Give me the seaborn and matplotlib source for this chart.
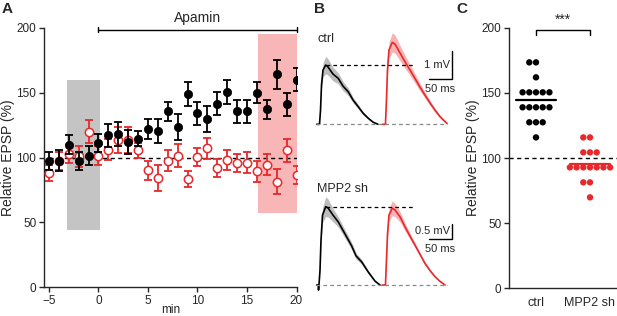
import numpy as np
import pandas as pd
import seaborn as sns
import matplotlib.pyplot as plt

# ---- panel A: time course (mean +/- sem) ----
minutes = list(range(-5, 21))
ctrl_mean = [97, 97.5, 110, 97, 101.5, 111, 117, 118, 112, 114.5, 122, 120.5, 135.5,
             123.5, 149, 134, 129.5, 141.5, 150.5, 135.5, 135.5, 150, 137, 164, 141, 160]
ctrl_sem = [7, 8, 7, 7, 7, 7, 9, 9, 9, 6, 8, 9, 7, 10, 9, 9, 10, 9, 9, 9, 9, 8, 7, 11, 9, 9]
sh_mean = [88, 97, 103, 101, 120, 101.5, 106, 113.5, 113.5, 105.5, 90, 84, 97.5, 101.5,
           83.5, 100.5, 107, 92, 98, 96, 96, 89.5, 94.5, 81.5, 105.5, 86.5]
sh_sem = [6, 7, 7, 8, 9, 7, 8, 10, 10, 6, 7, 10, 8, 9, 6, 7, 8, 7, 8, 7, 8, 8, 8, 10, 9, 7]

# ---- panel B: averaged EPSP traces (ms, mV) ----
top_black_t = [0, 6.2, 8.4, 10.6, 13.9, 19.8, 24.9, 35.9, 47.6, 57.9, 69.6, 80, 91.7, 102, 113.7, 124, 135]
top_black_v = [0, 0, 0.52, 1.44, 1.99, 2.17, 2.10, 1.84, 1.68, 1.40, 1.19, 0.89, 0.64, 0.41, 0.22, 0.08, 0]
top_black_e = [0, 0, 0.05, 0.15, 0.25, 0.32, 0.3, 0.25, 0.2, 0.17, 0.14, 0.1, 0.08, 0.06, 0.04, 0.02, 0]
top_red_t = [0, 7, 9.2, 11.4, 14.7, 22, 28, 39.2, 50, 61, 72, 83.2, 94, 105.2, 116, 127.2, 138.2, 142.6]
top_red_v = [0, 0, 0.89, 1.99, 2.72, 3.0, 2.94, 2.61, 2.29, 1.99, 1.68, 1.36, 1.07, 0.78, 0.52, 0.28, 0.1, 0.03]
top_red_e = [0, 0, 0.08, 0.2, 0.3, 0.35, 0.33, 0.28, 0.24, 0.2, 0.17, 0.14, 0.11, 0.09, 0.07, 0.05, 0.03, 0.02]

bot_black_t = [0, 3.5, 4.0, 5.0, 7.3, 9.5, 12.8, 19.8, 24.9, 35.9, 47.6, 62.4, 77.1, 86.6, 99.1, 113.7, 128.4, 139.5]
bot_black_v = [0, 0, -0.17, 0, 0.5, 1.5, 2.33, 2.61, 2.57, 2.33, 2.1, 1.7, 1.3, 0.97, 0.77, 0.43, 0.13, 0]
bot_black_e = [0, 0, 0, 0, 0.05, 0.15, 0.25, 0.33, 0.3, 0.22, 0.17, 0.14, 0.12, 0.1, 0.08, 0.05, 0.03, 0]
bot_red_t = [0, 7, 9.2, 11.4, 14.7, 22, 28, 39.2, 50, 61, 72, 83.2, 94, 105.2, 116, 127.2, 138.2]
bot_red_v = [0, 0, 0.83, 1.67, 2.33, 2.56, 2.5, 2.27, 1.94, 1.63, 1.33, 1.02, 0.72, 0.48, 0.28, 0.12, 0]
bot_red_e = [0, 0, 0.06, 0.15, 0.22, 0.25, 0.22, 0.17, 0.13, 0.1, 0.08, 0.06, 0.05, 0.04, 0.03, 0.02, 0]

# ---- panel C: individual cells ----
ctrl_cells = [173.4, 173.4, 161.9, 150.4, 150.4, 150.4, 150.4, 150.4, 138.9, 138.9, 138.9,
              138.9, 138.9, 127.4, 127.4, 127.4, 115.8]
sh_cells = [115.8, 115.8, 104.3, 104.3, 104.3, 92.8, 92.8, 92.8, 92.8, 92.8, 92.8, 92.8,
            81.3, 81.3, 69.8]
groups = ['ctrl', 'MPP2 sh']

RED = '#e8282b'
W, H = 617, 316

sns.set_style('ticks')
plt.rcParams['font.family'] = ['Liberation Sans', 'DejaVu Sans']
plt.rcParams['axes.linewidth'] = 1.0
plt.rcParams['xtick.major.width'] = 1.0
plt.rcParams['ytick.major.width'] = 1.0
plt.rcParams['xtick.major.size'] = 3.5
plt.rcParams['ytick.major.size'] = 3.5
plt.rcParams['xtick.major.pad'] = 2
plt.rcParams['ytick.major.pad'] = 2
plt.rcParams['xtick.labelsize'] = 8.5
plt.rcParams['ytick.labelsize'] = 8.5

fig = plt.figure(figsize=(W / 100, H / 100), dpi=100)


def px_axes(x0, y0, x1, y1):
    return fig.add_axes([x0 / W, 1 - y1 / H, (x1 - x0) / W, (y1 - y0) / H])


# ================= A =================
ax = px_axes(44, 27.7, 296.5, 287.3)
ax.axvspan(-3.2, 0.2, ymin=44.5 / 200, ymax=160 / 200, color='#c4c4c4', lw=0, zorder=0)
ax.axvspan(16.1, 20, ymin=57 / 200, ymax=195 / 200, color='#f9b6b6', lw=0, zorder=0)
ax.axhline(100, xmin=0.02, xmax=1, color='k', ls=(0, (3, 2.5)), lw=1, zorder=1)

ax.errorbar(minutes, sh_mean, yerr=sh_sem, fmt='none', ecolor=RED, elinewidth=1.3,
            capsize=2.6, capthick=1.3, zorder=2)
sns.scatterplot(x=minutes, y=sh_mean, ax=ax, s=36, color='white', edgecolor=RED,
                linewidth=1.1, zorder=3)
ax.errorbar(minutes, ctrl_mean, yerr=ctrl_sem, fmt='none', ecolor='k', elinewidth=1.3,
            capsize=2.6, capthick=1.3, zorder=4)
sns.scatterplot(x=minutes, y=ctrl_mean, ax=ax, s=36, color='k', edgecolor='k',
                linewidth=0.5, zorder=5)

ax.set_xlim(-5.5, 20)
ax.set_ylim(0, 200)
ax.set_xticks(range(-5, 21, 5))
ax.set_yticks(range(0, 201, 50))
ax.set_xlabel('min', fontsize=8.5, labelpad=-2)
ax.set_ylabel('Relative EPSP (%)', fontsize=10, labelpad=1)
sns.despine(ax=ax)
# Apamin bracket
ax.plot([0, 20], [198.5, 198.5], color='k', lw=1, clip_on=False)
ax.plot([0, 0], [196.5, 200.5], color='k', lw=1, clip_on=False)
ax.plot([20, 20], [196.5, 200.5], color='k', lw=1, clip_on=False)
ax.text(10, 202, 'Apamin', ha='center', va='bottom', fontsize=10)


# ================= B =================
def trace_axes(y0, y1, ms_per_px, mv_per_px, base_px):
    a = px_axes(305, y0, 462, y1)
    a.set_xlim((305 - 316.7) * ms_per_px, (462 - 316.7) * ms_per_px)
    a.set_ylim((base_px - y1) * mv_per_px, (base_px - y0) * mv_per_px)
    a.axis('off')
    return a


red_offset = 144.5
for (y0, y1, mspp, mvpp, base, bt, bv, be, rt, rv, re_, peak, label, sbar_mv, sbar_txt) in [
        (30, 132, 2.203, 1 / 27.3, 124.3, top_black_t, top_black_v, top_black_e,
         top_red_t, top_red_v, top_red_e, 2.17, 'ctrl', 1.0, '1 mV'),
        (180, 295, 2.203, 1 / 30.0, 285.0, bot_black_t, bot_black_v, bot_black_e,
         bot_red_t, bot_red_v, bot_red_e, 2.61, 'MPP2 sh', 0.5, '0.5 mV')]:
    b = trace_axes(y0, y1, mspp, mvpp, base)
    bt = np.array(bt); bv = np.array(bv); be = np.array(be)
    rt = np.array(rt) + red_offset; rv = np.array(rv); re_ = np.array(re_)
    b.fill_between(bt, bv - be, bv + be, color='#bdbdbd', lw=0)
    b.fill_between(rt, rv - re_, rv + re_, color='#f7b3b3', lw=0)
    sns.lineplot(x=bt, y=bv, ax=b, color='k', lw=1.2, sort=False)
    sns.lineplot(x=rt, y=rv, ax=b, color=RED, lw=1.2, sort=False)
    b.plot([20, (415 - 316.7) * mspp], [peak, peak], color='k', lw=0.9, ls=(0, (3, 2.5)))
    b.plot([-1, (447 - 316.7) * mspp], [0, 0], color='#888888', lw=0.9, ls=(0, (3, 2.5)))
    # scale bar
    sx = (451.7 - 316.7) * mspp
    sy = peak - 0.5 if label == 'ctrl' else 1.55
    b.plot([sx - 50, sx, sx], [sy, sy, sy + sbar_mv], color='k', lw=1)
    b.text(sx - 4, sy + sbar_mv / 2, sbar_txt, ha='right', va='center', fontsize=8)
    b.text(sx - 25, sy - 0.18, '50 ms', ha='center', va='top', fontsize=8)
    b.text(1, (base - (y0 + 9)) * mvpp, label, ha='left', va='center', fontsize=9)


# ================= C =================
cx = px_axes(509, 27.7, 617, 288.3)
df = pd.DataFrame({'group': ['ctrl'] * len(ctrl_cells) + ['MPP2 sh'] * len(sh_cells),
                   'epsp': ctrl_cells + sh_cells})
sns.swarmplot(data=df, x='group', y='epsp', hue='group', order=groups,
              palette={'ctrl': 'k', 'MPP2 sh': RED}, size=4.6, ax=cx, legend=False,
              linewidth=0, zorder=3)
for i, vals, col in [(0, ctrl_cells, 'k'), (1, sh_cells, RED)]:
    m = np.mean(vals)
    cx.plot([i - 0.37, i + 0.37], [m, m], color=col, lw=1.6, zorder=4)
cx.axhline(100, color='k', ls=(0, (3, 2.5)), lw=1, zorder=1)
cx.set_xlim(-0.5, 1.5)
cx.set_ylim(0, 200)
cx.set_yticks(range(0, 201, 50))
cx.set_xlabel('')
cx.set_ylabel('Relative EPSP (%)', fontsize=10, labelpad=1)
cx.tick_params(axis='x', length=0, labelsize=9, pad=6)
sns.despine(ax=cx)
cx.plot([0, 0, 1, 1], [194.3, 198.2, 198.2, 194.3], color='k', lw=1, clip_on=False)
cx.text(0.5, 201, '***', ha='center', va='bottom', fontsize=10)

# panel letters
for lab, xp in [('A', 2), ('B', 314), ('C', 456)]:
    fig.text(xp / W, 1 - 2 / H, lab, ha='left', va='top', fontsize=11, fontweight='bold')

fig.savefig('out.png', dpi=100)
